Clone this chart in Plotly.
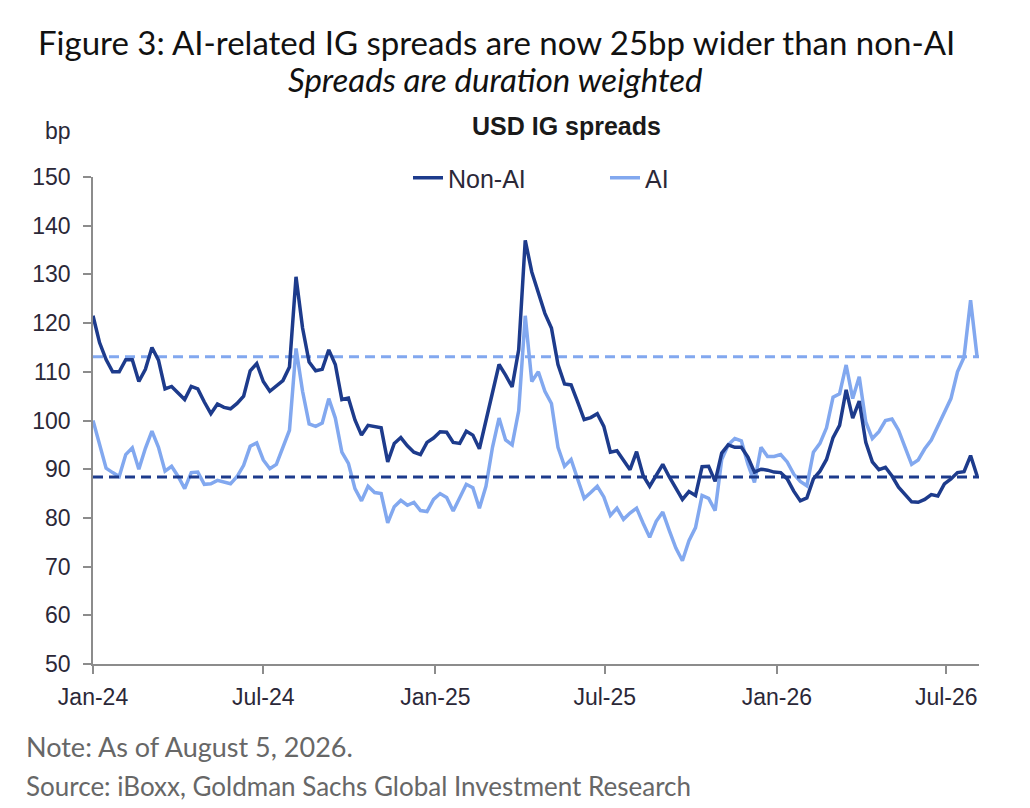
import pandas as pd
import plotly.graph_objects as go

dates = pd.date_range("2024-01-01", periods=136, freq="7D")

non_ai = [
    121.5, 116, 112.5, 110, 110, 112.5, 112.5, 108, 110.5, 115,
    112.4, 106.5, 107, 105.6, 104.3, 107, 106.5, 103.8, 101.4, 103.4,
    102.7, 102.4, 103.5, 105, 110.2, 111.7, 108, 106, 107, 108.2,
    111, 129.5, 119, 112, 110.2, 110.5, 114.5, 111.5, 104.3, 104.6,
    100.1, 97, 99, 98.8, 98.5, 91.5, 95.3, 96.5, 94.8, 93.5,
    93, 95.5, 96.4, 97.7, 97.6, 95.5, 95.3, 97.8, 97, 94.2,
    100, 105.3, 111.5, 109.3, 106.9, 114.5, 137, 130.5, 126.4, 122,
    119, 111.5, 107.5, 107.3, 103.8, 100.2, 100.6, 101.4, 98.8, 93.5,
    93.8, 92, 89.9, 93.6, 88.7, 86.5, 88.8, 91, 88.4, 86,
    83.8, 85.4, 84.6, 90.5, 90.6, 87.5, 93.3, 95, 94.5, 94.5,
    92.5, 89.4, 90, 89.8, 89.4, 89.3, 88, 85.5, 83.5, 84.1,
    88, 89.6, 92, 96.5, 99, 106.3, 100.5, 104, 95.5, 91.5,
    89.9, 90.4, 88.6, 86.3, 84.7, 83.3, 83.2, 83.8, 84.8, 84.5,
    87, 88, 89.3, 89.5, 92.8, 88.6,
]

ai = [
    100, 95, 90.2, 89.3, 88.5, 93, 94.4, 90, 94.3, 97.8,
    94.5, 89.6, 90.6, 88.5, 86, 89.3, 89.4, 86.9, 87, 87.7,
    87.3, 87, 88.5, 90.8, 94.7, 95.4, 91.9, 90.1, 91, 94.5,
    98, 114.8, 106, 99.3, 98.8, 99.5, 104.5, 100.5, 93.5, 91.2,
    86, 83.5, 86.5, 85.2, 85, 79, 82.3, 83.6, 82.6, 83.2,
    81.5, 81.3, 83.8, 85, 84.2, 81.4, 84.3, 86.9, 86.2, 82,
    86.5, 94.5, 100.5, 96, 95, 102, 121.5, 108, 110, 106,
    103.5, 94.5, 90.6, 92, 88, 84, 85.2, 86.5, 84.3, 80.5,
    82, 79.7, 81, 82, 78.9, 76, 79.3, 81.2, 77.4, 73.8,
    71.2, 75.3, 78, 84.6, 84, 81.5, 92, 95, 96.3, 95.8,
    91, 87.3, 94.5, 92.6, 92.6, 93, 91.5, 89, 87.5, 86.6,
    93.5, 95.3, 98.5, 104.8, 105.5, 111.4, 104.5, 109, 99.7, 96.3,
    97.7, 100, 100.3, 98, 94.5, 91, 91.9, 94.2, 96, 98.7,
    101.5, 104.5, 110, 113, 124.7, 113,
]

ai_level = 113.1
non_ai_level = 88.4

x_start = "2024-01-01"
x_end = "2026-08-05"
tick_dates = ["2024-01-01", "2024-07-01", "2025-01-01", "2025-07-01", "2026-01-01", "2026-07-01"]
tick_labels = ["Jan-24", "Jul-24", "Jan-25", "Jul-25", "Jan-26", "Jul-26"]
y_ticks = [50, 60, 70, 80, 90, 100, 110, 120, 130, 140, 150]

NAVY = "#1d3b8c"
LIGHT = "#82a8ef"
AXIS = "#8c8c8c"
ARIAL = "Liberation Sans, Arial, sans-serif"
TICKFONT = dict(family=ARIAL, size=23, color="#2b2838")
LEGFONT = dict(family=ARIAL, size=25, color="#2b2838")

# page is drawn with an 8px body margin; plot area sits at screen x 93..979, y 177..664
OFF = 8
PL, PR, PT, PB = 93 - OFF, 979 - OFF, 177 - OFF, 664 - OFF
W, H = 1030, 808


def px(xs):
    return (xs - OFF - PL) / (PR - PL)


def py(ys):
    return (PB - (ys - OFF)) / (PB - PT)


fig = go.Figure()

fig.add_trace(go.Scatter(x=[x_start, x_end], y=[ai_level, ai_level], mode="lines",
                         line=dict(color=LIGHT, width=3, dash="10px,6px"),
                         showlegend=False, hoverinfo="skip"))
fig.add_trace(go.Scatter(x=dates, y=ai, mode="lines", name="AI",
                         line=dict(color=LIGHT, width=3.5)))
fig.add_trace(go.Scatter(x=dates, y=non_ai, mode="lines", name="Non-AI",
                         line=dict(color=NAVY, width=3.5)))
fig.add_trace(go.Scatter(x=[x_start, x_end], y=[non_ai_level, non_ai_level], mode="lines",
                         line=dict(color=NAVY, width=3, dash="10px,6px"),
                         showlegend=False, hoverinfo="skip"))

fig.update_layout(
    width=W, height=H,
    margin=dict(l=PL, r=W - PR, t=PT, b=H - PB),
    paper_bgcolor="white", plot_bgcolor="white",
    hovermode=False,
    legend=dict(orientation="h", x=px(408), xanchor="left", y=py(178), yanchor="middle",
                traceorder="reversed", font=LEGFONT,
                entrywidth=152, entrywidthmode="pixels",
                bgcolor="rgba(0,0,0,0)"),
    xaxis=dict(type="date", range=[x_start, x_end], showgrid=False, zeroline=False,
               showline=True, linecolor=AXIS, linewidth=1.5,
               ticks="outside", ticklen=8, tickcolor=AXIS, tickwidth=1.5,
               tickvals=tick_dates, ticktext=tick_labels, tickfont=TICKFONT,
               ticklabelstandoff=4),
    yaxis=dict(range=[50, 150], showgrid=False, zeroline=False,
               showline=True, linecolor=AXIS, linewidth=1.5,
               ticks="outside", ticklen=8, tickcolor=AXIS, tickwidth=1.5,
               tickvals=y_ticks, tickfont=TICKFONT, ticklabelstandoff=8),
    annotations=[
        dict(text="Figure 3: AI-related IG spreads are now 25bp wider than non-AI",
             xref="paper", yref="paper", x=px(496.5), y=py(42),
             xanchor="center", yanchor="middle", showarrow=False,
             font=dict(family="Lato, sans-serif", size=33, color="#111111")),
        dict(text="<i>Spreads are duration weighted</i>",
             xref="paper", yref="paper", x=px(495), y=py(79),
             xanchor="center", yanchor="middle", showarrow=False,
             font=dict(family="Lato, sans-serif", size=33, color="#111111")),
        dict(text="<b>USD IG spreads</b>",
             xref="paper", yref="paper", x=px(566.5), y=py(126),
             xanchor="center", yanchor="middle", showarrow=False,
             font=dict(family=ARIAL, size=25, color="#1a1a1a")),
        dict(text="bp",
             xref="paper", yref="paper", x=px(43), y=py(131),
             xanchor="left", yanchor="middle", showarrow=False,
             font=TICKFONT),
        dict(text="Note: As of August 5, 2026.",
             xref="paper", yref="paper", x=px(24), y=py(746),
             xanchor="left", yanchor="middle", showarrow=False,
             font=dict(family="Lato, sans-serif", size=27, color="#676767")),
        dict(text="Source: iBoxx, Goldman Sachs Global Investment Research",
             xref="paper", yref="paper", x=px(24), y=py(786),
             xanchor="left", yanchor="middle", showarrow=False,
             font=dict(family="Lato, sans-serif", size=26, color="#676767")),
    ],
)

fig.write_html("out.html")
